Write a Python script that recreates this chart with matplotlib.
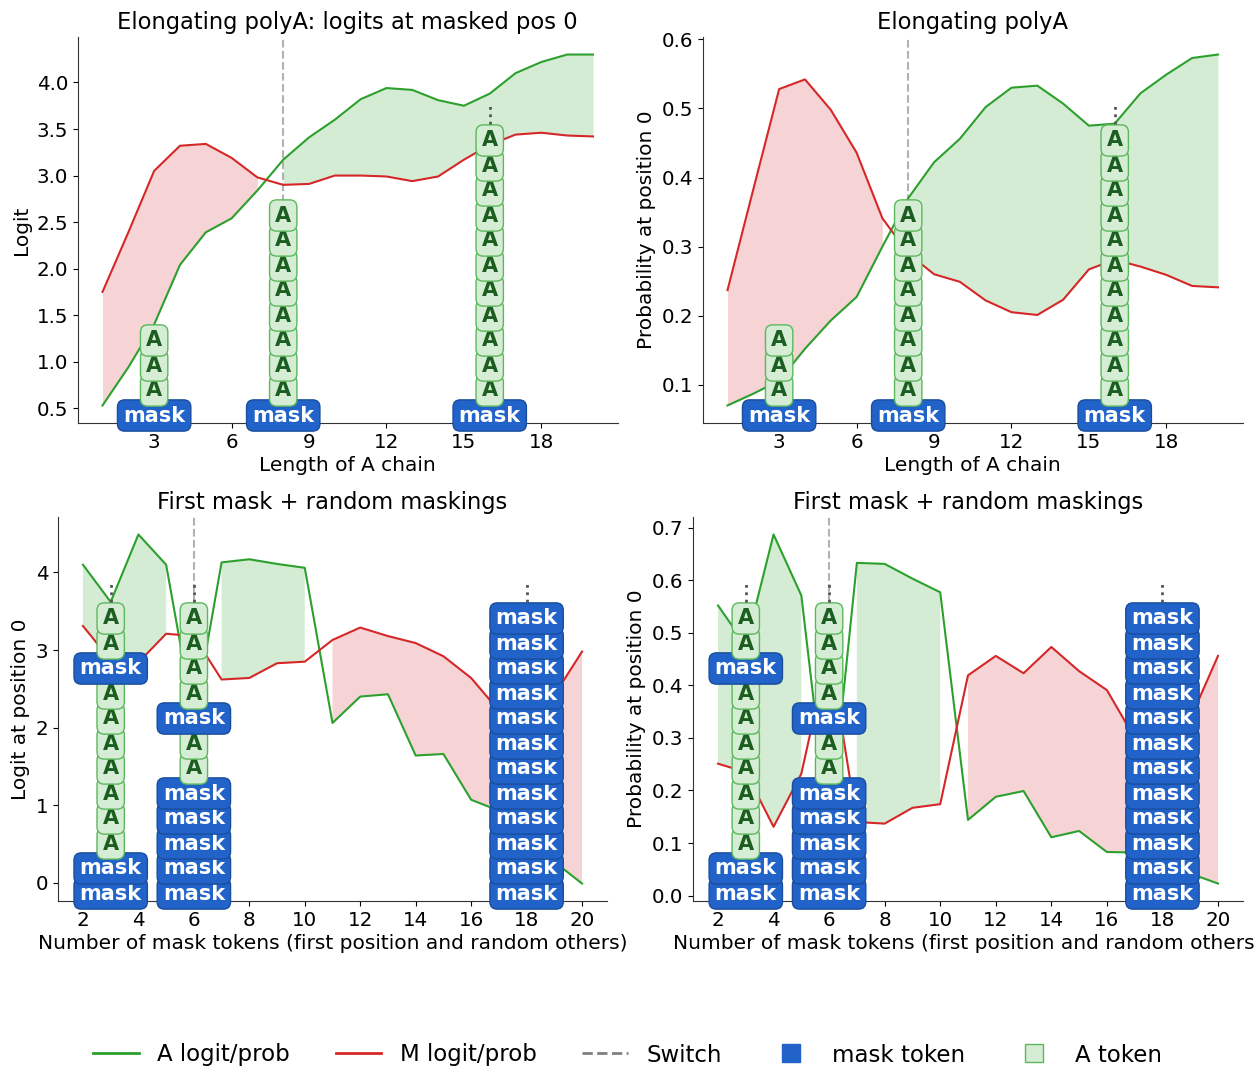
import matplotlib
matplotlib.use("Agg")
import matplotlib.pyplot as plt
from matplotlib.lines import Line2D
from matplotlib.transforms import blended_transform_factory
import numpy as np

plt.rcParams['font.family'] = ['DejaVu Sans']

# ---------------- data ----------------
chain_len = list(range(1, 21))
polyA_logit_A = [0.53, 0.94, 1.40, 2.04, 2.39, 2.54, 2.84, 3.17, 3.41, 3.60,
                 3.82, 3.94, 3.92, 3.81, 3.75, 3.88, 4.10, 4.22, 4.30, 4.30]
polyA_logit_M = [1.75, 2.39, 3.05, 3.32, 3.34, 3.19, 2.98, 2.90, 2.91, 3.00,
                 3.00, 2.99, 2.94, 2.99, 3.17, 3.33, 3.44, 3.46, 3.43, 3.42]
polyA_prob_A = [0.070, 0.087, 0.106, 0.152, 0.193, 0.227, 0.300, 0.370, 0.422, 0.456,
                0.502, 0.530, 0.533, 0.507, 0.475, 0.478, 0.522, 0.549, 0.573, 0.578]
polyA_prob_M = [0.237, 0.383, 0.528, 0.542, 0.498, 0.436, 0.341, 0.290, 0.260, 0.249,
                0.222, 0.205, 0.201, 0.223, 0.267, 0.281, 0.271, 0.259, 0.243, 0.241]

n_masks = list(range(2, 21))
rand_logit_A = [4.10, 3.62, 4.49, 4.10, 2.10, 4.13, 4.17, 4.11, 4.06, 2.06,
                2.40, 2.43, 1.64, 1.66, 1.07, 0.93, 0.60, 0.27, -0.01]
rand_logit_M = [3.31, 2.87, 2.84, 3.21, 3.18, 2.62, 2.64, 2.83, 2.85, 3.13,
                3.29, 3.18, 3.09, 2.92, 2.64, 2.22, 2.12, 2.42, 2.98]
rand_prob_A = [0.552, 0.476, 0.687, 0.571, 0.120, 0.633, 0.631, 0.603, 0.577, 0.144,
               0.188, 0.199, 0.111, 0.123, 0.083, 0.082, 0.062, 0.042, 0.023]
rand_prob_M = [0.251, 0.235, 0.131, 0.232, 0.470, 0.140, 0.137, 0.167, 0.174, 0.419,
               0.456, 0.423, 0.473, 0.427, 0.391, 0.300, 0.280, 0.336, 0.456]

polyA_switch = 8
rand_switch = 6

# example sequences shown as token stacks (listed from position 0 upward)
polyA_examples = {3: ['mask'] + ['A'] * 3,
                  8: ['mask'] + ['A'] * 8,
                  16: ['mask'] + ['A'] * 16}
rand_examples = {3: ['mask', 'mask', 'A', 'A', 'A', 'A', 'A', 'A', 'A', 'mask', 'A', 'A', 'A'],
                 6: ['mask', 'mask', 'mask', 'mask', 'mask', 'A', 'A', 'mask', 'A', 'A', 'A', 'A', 'A'],
                 18: ['mask'] * 18}

# ---------------- style ----------------
GREEN = '#2ca02c'
RED = '#d62728'
MASK_FC = '#2163c8'
MASK_EC = '#1a4d9c'
A_FC = '#d5ecd5'
A_EC = '#5cb85c'
A_TXT = '#1b5e20'
MAX_TOKENS = 12
DPI = 100

fig = plt.figure(figsize=(12.55, 10.68), dpi=DPI)
FIG_W, FIG_H = 1255, 1068


def px_axes(left, right, top, bottom):
    return fig.add_axes([left / FIG_W, (FIG_H - bottom) / FIG_H,
                         (right - left) / FIG_W, (bottom - top) / FIG_H])


ax_tl = px_axes(78, 617.5, 37, 423)
ax_tr = px_axes(703, 1242.5, 37, 423)
ax_bl = px_axes(58, 607, 517, 901)
ax_br = px_axes(693, 1243, 517, 901)


def draw_stack(ax, x, tokens, axh_px):
    trans = blended_transform_factory(ax.transData, ax.transAxes)
    shown = tokens[:MAX_TOKENS]
    base, step = 7.5, 25.0
    for i, tok in enumerate(shown):
        y = (base + step * i) / axh_px
        if tok == 'mask':
            kw = dict(color='white',
                      bbox=dict(boxstyle='round,pad=0.27,rounding_size=0.35',
                                fc=MASK_FC, ec=MASK_EC, lw=1.0))
        else:
            kw = dict(color=A_TXT,
                      bbox=dict(boxstyle='round,pad=0.27,rounding_size=0.35',
                                fc=A_FC, ec=A_EC, lw=1.0))
        ax.text(x, y, tok, transform=trans, ha='center', va='center',
                fontsize=15, fontweight='bold', zorder=10 + i,
                clip_on=False, **kw)
    if len(tokens) > MAX_TOKENS:
        top = base + step * (len(shown) - 1) + 17
        ax.plot([x, x], [top / axh_px, (top + 18) / axh_px], transform=trans,
                color='#555555', ls=':', lw=2, zorder=30, clip_on=False)


def panel(ax, x, a, m, switch, examples, title, xlabel, ylabel, xticks):
    x = np.asarray(x)
    a = np.asarray(a)
    m = np.asarray(m)
    ax.plot(x, a, color=GREEN, lw=1.5, zorder=3)
    ax.plot(x, m, color=RED, lw=1.5, zorder=3)
    ax.fill_between(x, a, m, where=a > m, color=GREEN, alpha=0.2, lw=0, zorder=1)
    ax.fill_between(x, a, m, where=m > a, color=RED, alpha=0.2, lw=0, zorder=1)
    ax.axvline(switch, color='gray', ls='--', lw=1.5, alpha=0.6, zorder=2)
    ax.set_title(title, fontsize=16.3)
    ax.set_xlabel(xlabel, fontsize=14.5, labelpad=3)
    ax.set_ylabel(ylabel, fontsize=14.5)
    ax.set_xticks(xticks)
    ax.tick_params(labelsize=14.3)
    for s in ('top', 'right'):
        ax.spines[s].set_visible(False)
    for s in ('left', 'bottom'):
        ax.spines[s].set_color('#333333')
    axh_px = ax.get_position().height * FIG_H
    for xe, toks in examples.items():
        draw_stack(ax, xe, toks, axh_px)


panel(ax_tl, chain_len, polyA_logit_A, polyA_logit_M, polyA_switch, polyA_examples,
      'Elongating polyA: logits at masked pos 0', 'Length of A chain', 'Logit',
      [3, 6, 9, 12, 15, 18])
panel(ax_tr, chain_len, polyA_prob_A, polyA_prob_M, polyA_switch, polyA_examples,
      'Elongating polyA', 'Length of A chain', 'Probability at position 0',
      [3, 6, 9, 12, 15, 18])
panel(ax_bl, n_masks, rand_logit_A, rand_logit_M, rand_switch, rand_examples,
      'First mask + random maskings',
      'Number of mask tokens (first position and random others)',
      'Logit at position 0', list(range(2, 21, 2)))
panel(ax_br, n_masks, rand_prob_A, rand_prob_M, rand_switch, rand_examples,
      'First mask + random maskings',
      'Number of mask tokens (first position and random others)',
      'Probability at position 0', list(range(2, 21, 2)))

handles = [
    Line2D([], [], color=GREEN, lw=2, label='A logit/prob'),
    Line2D([], [], color=RED, lw=2, label='M logit/prob'),
    Line2D([], [], color='gray', lw=2, ls='--', label='Switch'),
    Line2D([], [], marker='s', ls='None', markersize=13, markerfacecolor=MASK_FC,
           markeredgecolor=MASK_FC, label='mask token'),
    Line2D([], [], marker='s', ls='None', markersize=13, markerfacecolor=A_FC,
           markeredgecolor=A_EC, label='A token'),
]
fig.legend(handles=handles, loc='center', bbox_to_anchor=(0.5, 13 / FIG_H),
           ncol=5, frameon=False, fontsize=16.5)

fig.savefig('out.png', dpi=DPI)
